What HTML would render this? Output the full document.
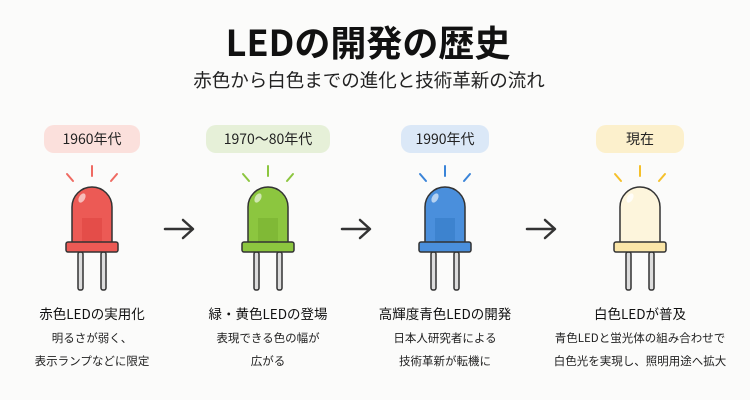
<!DOCTYPE html>
<html><head><meta charset="utf-8"><style>
html,body{margin:0;padding:0;background:#fbfbfa;}
svg{display:block;font-family:"Noto Sans CJK JP","Liberation Sans",sans-serif;}
</style></head><body>
<svg width="750" height="400" viewBox="0 0 750 400" xmlns="http://www.w3.org/2000/svg">
<rect width="750" height="400" fill="#fbfbfa"/>
<text x="368" y="56" font-size="36" font-weight="bold" text-anchor="middle" fill="#111">LEDの開発の歴史</text>
<text x="369" y="87" font-size="18.5" text-anchor="middle" fill="#222">赤色から白色までの進化と技術革新の流れ</text>

<defs>
<g id="legs">
<rect x="-14" y="252" width="5" height="38" rx="2" fill="#ddd" stroke="#333" stroke-width="1.5"/>
<rect x="9" y="252" width="5" height="38" rx="2" fill="#ddd" stroke="#333" stroke-width="1.5"/>
</g>
</defs>

<!-- LED 1 -->
<g transform="translate(92,0)">
<rect x="-48" y="125" width="96" height="28" rx="10" fill="#fbe0dc"/>
<text x="0" y="144" font-size="14" text-anchor="middle" fill="#222">1960年代</text>
<g stroke="#ef6a62" stroke-width="2" stroke-linecap="round"><line x1="0" y1="166" x2="0" y2="176"/><line x1="-25" y1="174" x2="-19" y2="181"/><line x1="25" y1="174" x2="19" y2="181"/></g>
<use href="#legs"/>
<path d="M-20,243 V207 A20,20 0 0 1 20,207 V243 Z" fill="#ec5a55" stroke="#333" stroke-width="1.5"/>
<rect x="-10" y="218" width="20" height="25" fill="#e24a46" opacity="0.8"/>
<ellipse cx="-10" cy="198" rx="3" ry="5" fill="#fff" opacity="0.6" transform="rotate(30 -10 198)"/>
<rect x="-26" y="242" width="52" height="10" rx="2" fill="#ec5a55" stroke="#333" stroke-width="1.5"/>
<text x="0" y="319" font-size="13.5" text-anchor="middle" fill="#111">赤色LEDの実用化</text>
<text x="0" y="342" font-size="11.5" text-anchor="middle" fill="#222">明るさが弱く、</text>
<text x="0" y="365" font-size="11.5" text-anchor="middle" fill="#222">表示ランプなどに限定</text>
</g>

<!-- LED 2 -->
<g transform="translate(268,0)">
<rect x="-62" y="125" width="124" height="28" rx="10" fill="#e6f0d8"/>
<text x="0" y="144" font-size="14" text-anchor="middle" fill="#222">1970〜80年代</text>
<g stroke="#8cc63f" stroke-width="2" stroke-linecap="round"><line x1="0" y1="166" x2="0" y2="176"/><line x1="-25" y1="174" x2="-19" y2="181"/><line x1="25" y1="174" x2="19" y2="181"/></g>
<use href="#legs"/>
<path d="M-20,243 V207 A20,20 0 0 1 20,207 V243 Z" fill="#8cc63f" stroke="#333" stroke-width="1.5"/>
<rect x="-10" y="218" width="20" height="25" fill="#7db534" opacity="0.8"/>
<ellipse cx="-10" cy="198" rx="3" ry="5" fill="#fff" opacity="0.6" transform="rotate(30 -10 198)"/>
<rect x="-26" y="242" width="52" height="10" rx="2" fill="#8cc63f" stroke="#333" stroke-width="1.5"/>
<text x="0" y="319" font-size="13.5" text-anchor="middle" fill="#111">緑・黄色LEDの登場</text>
<text x="0" y="342" font-size="11.5" text-anchor="middle" fill="#222">表現できる色の幅が</text>
<text x="0" y="365" font-size="11.5" text-anchor="middle" fill="#222">広がる</text>
</g>

<!-- LED 3 -->
<g transform="translate(445,0)">
<rect x="-44" y="125" width="88" height="28" rx="10" fill="#dbe8f7"/>
<text x="0" y="144" font-size="14" text-anchor="middle" fill="#222">1990年代</text>
<g stroke="#3a84d8" stroke-width="2" stroke-linecap="round"><line x1="0" y1="166" x2="0" y2="176"/><line x1="-25" y1="174" x2="-19" y2="181"/><line x1="25" y1="174" x2="19" y2="181"/></g>
<use href="#legs"/>
<path d="M-20,243 V207 A20,20 0 0 1 20,207 V243 Z" fill="#4a8fdc" stroke="#333" stroke-width="1.5"/>
<rect x="-10" y="218" width="20" height="25" fill="#3a7fcc" opacity="0.8"/>
<ellipse cx="-10" cy="198" rx="3" ry="5" fill="#fff" opacity="0.6" transform="rotate(30 -10 198)"/>
<rect x="-26" y="242" width="52" height="10" rx="2" fill="#4a8fdc" stroke="#333" stroke-width="1.5"/>
<text x="0" y="319" font-size="13.5" text-anchor="middle" fill="#111">高輝度青色LEDの開発</text>
<text x="0" y="342" font-size="11.5" text-anchor="middle" fill="#222">日本人研究者による</text>
<text x="0" y="365" font-size="11.5" text-anchor="middle" fill="#222">技術革新が転機に</text>
</g>

<!-- LED 4 -->
<g transform="translate(640,0)">
<rect x="-44" y="125" width="88" height="28" rx="10" fill="#fcf0cc"/>
<text x="0" y="144" font-size="14" text-anchor="middle" fill="#222">現在</text>
<g stroke="#f5c02a" stroke-width="2" stroke-linecap="round"><line x1="0" y1="166" x2="0" y2="176"/><line x1="-25" y1="174" x2="-19" y2="181"/><line x1="25" y1="174" x2="19" y2="181"/></g>
<use href="#legs"/>
<path d="M-20,243 V207 A20,20 0 0 1 20,207 V243 Z" fill="#fdf5dc" stroke="#333" stroke-width="1.5"/>
<ellipse cx="-10" cy="198" rx="3" ry="5" fill="#fff" opacity="0.8" transform="rotate(30 -10 198)"/>
<rect x="-26" y="242" width="52" height="10" rx="2" fill="#fbe6a8" stroke="#333" stroke-width="1.5"/>
<text x="0" y="319" font-size="13.5" text-anchor="middle" fill="#111">白色LEDが普及</text>
<text x="0" y="342" font-size="11.5" text-anchor="middle" fill="#222">青色LEDと蛍光体の組み合わせで</text>
<text x="0" y="365" font-size="11.5" text-anchor="middle" fill="#222">白色光を実現し、照明用途へ拡大</text>
</g>

<!-- arrows -->
<g stroke="#333" stroke-width="2.5" fill="none" stroke-linecap="round" stroke-linejoin="round">
<path d="M165,229 H192 M183,220 L193,229 L183,238"/>
<path d="M342,229 H369 M360,220 L370,229 L360,238"/>
<path d="M527,229 H554 M545,220 L555,229 L545,238"/>
</g>
</svg>
</body></html>
